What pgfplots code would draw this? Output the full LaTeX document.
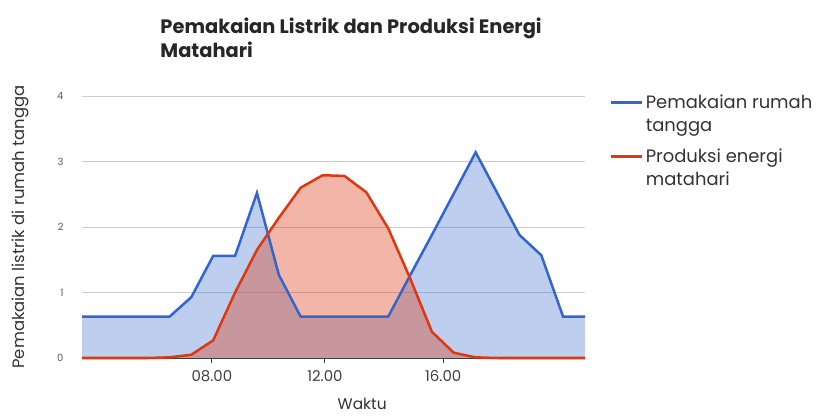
\documentclass[border=0pt]{standalone}
\usepackage{pgfplots}
\pgfplotsset{compat=1.18}
\usepackage{fontspec}
\setmainfont{Poppins}
\definecolor{gblue}{HTML}{3366CC}
\definecolor{gred}{HTML}{DC3912}
\pgfplotstableread{
i   rumah  surya
0   0.63   0.00
1   0.63   0.00
2   0.63   0.00
3   0.63   0.00
4   0.63   0.01
5   0.93   0.05
6   1.56   0.27
7   1.56   1.00
8   2.52   1.65
9   1.27   2.14
10  0.63   2.60
11  0.63   2.79
12  0.63   2.78
13  0.63   2.53
14  0.63   1.98
15  1.26   1.22
16  1.88   0.40
17  2.51   0.08
18  3.14   0.01
19  2.51   0.00
20  1.88   0.00
21  1.57   0.00
22  0.63   0.00
23  0.63   0.00
}\datatable
\begin{document}
\begin{tikzpicture}
\path[use as bounding box] (0,0) rectangle (825bp,417bp);
\begin{axis}[
  at={(82bp,59bp)}, anchor=south west,
  scale only axis, width=503bp, height=262bp,
  xmin=0, xmax=23, ymin=0, ymax=4,
  clip=false,
  axis x line*=bottom, axis y line*=left,
  y axis line style={draw=none},
  x axis line style={draw=black!75, line width=1pt},
  xtick={5.94,11.11,16.52},
  xticklabels={08.00,12.00,16.00},
  ytick={0,1,2,3,4},
  ymajorgrids,
  grid style={draw=black!20, line width=0.8pt},
  tick align=outside,
  major tick length=5bp,
  xtick style={draw=black!75, line width=1pt},
  ytick style={draw=none},
  xticklabel style={font=\fontsize{15}{17}\selectfont, text=black!75, yshift=-4bp},
  yticklabel style={font=\fontsize{10}{12}\selectfont, text=black!65, xshift=-10bp},
  /pgf/number format/assume math mode=true,
  xlabel={Waktu},
  xlabel style={at={(axis description cs:0.557,-0.176)}, anchor=center, font=\fontsize{15.5}{18}\selectfont, text=black!80},
  ylabel={Pemakaian listrik di rumah tangga},
  ylabel style={at={(axis description cs:-0.123,0.5)}, anchor=center, font=\fontsize{16.5}{19}\selectfont, text=black!80},
  title={Pemakaian Listrik dan Produksi Energi\\Matahari},
  title style={at={(axis description cs:0.149,1.29)}, anchor=north west, align=left, font=\bfseries\fontsize{19.5}{24}\selectfont, text=black!85},
  legend style={at={(axis description cs:1.043,1.02)}, anchor=north west, draw=none, fill=none,
    font=\fontsize{18}{23}\selectfont, text=black!80, row sep=12bp, nodes={align=left}},
  legend cell align=left,
  legend image code/.code={\path[draw=none, fill=none] (0bp,-11.5bp) rectangle (31bp,11.5bp);
    \draw[#1, line width=3bp] (0bp,11.5bp) -- (31bp,11.5bp);},
]
\addplot[draw=none, fill=gblue, fill opacity=0.32, forget plot] table[x=i, y=rumah] {\datatable} \closedcycle;
\addplot[draw=none, fill=gred, fill opacity=0.37, forget plot] table[x=i, y=surya] {\datatable} \closedcycle;
\addplot[gblue, line width=2.5bp] table[x=i, y=rumah] {\datatable};
\addlegendentry{Pemakaian rumah\\tangga}
\addplot[gred, line width=2.5bp] table[x=i, y=surya] {\datatable};
\addlegendentry{Produksi energi\\matahari}
\end{axis}
\end{tikzpicture}
\end{document}
